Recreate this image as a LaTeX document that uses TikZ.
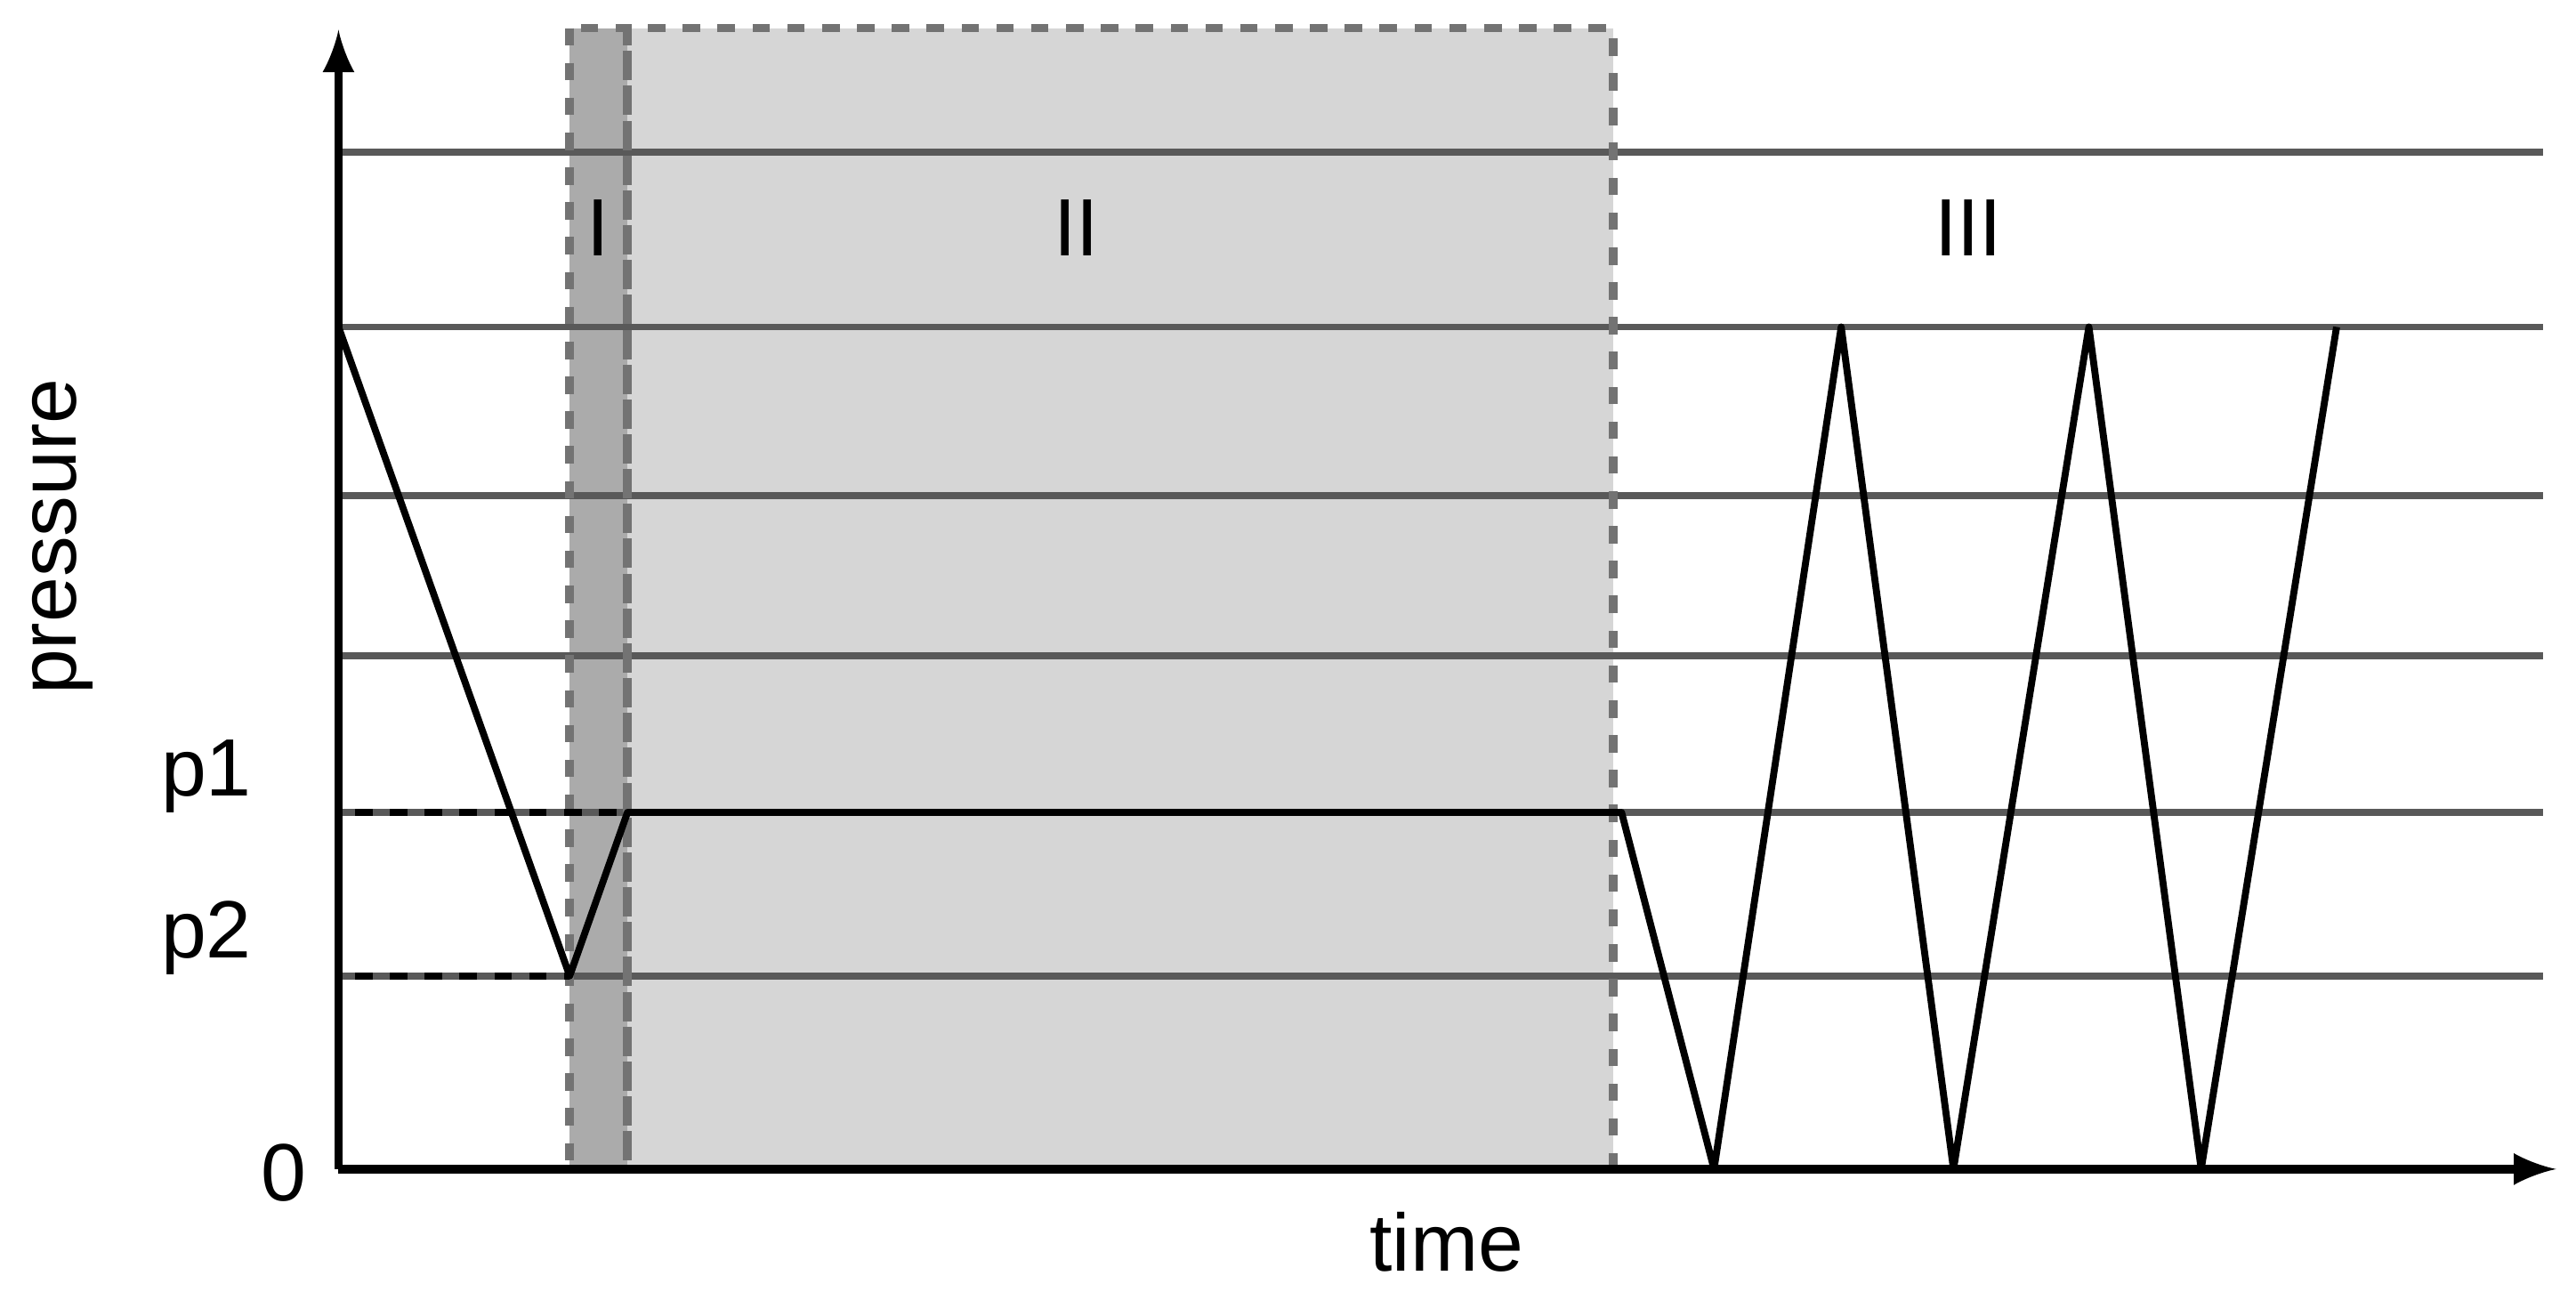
\documentclass[tikz,border=0pt]{standalone}
\usepackage{fontspec}
\setmainfont{Liberation Sans}
\begin{document}
\begin{tikzpicture}[x=0.01cm,y=-0.01cm,
  grid/.style={draw=black!65,line width=1.2pt},
  zone/.style={draw=black!55,dashed,line width=1.5pt},
  lbl/.style={font=\fontsize{14}{16}\selectfont},
  curve/.style={line width=1.2pt,line join=round}]
\useasboundingbox (0,0) rectangle (1560,782);
\fill[black!16] (380,17) rectangle (977,708);
\fill[black!33] (345,17) rectangle (380,708);
\foreach \y in {92,198,300,397,492,591} \draw[grid] (205,\y) -- (1540,\y);
\draw[zone] (380,17) rectangle (977,708);
\draw[zone] (345,17) rectangle (380,708);
\coordinate (o) at (205,708);
\coordinate (ytop) at (205,18);
\coordinate (xend) at (1548,708);
\draw[line width=1.5pt,-latex] (o) -- (ytop);
\draw[line width=1.5pt,-latex] (o) -- (xend);
\coordinate (a) at (215,492); \coordinate (b) at (380,492);
\coordinate (c) at (215,591); \coordinate (d) at (345,591);
\draw[dashed,line width=1.2pt] (a) -- (b);
\draw[dashed,line width=1.2pt] (c) -- (d);
\draw[curve] (205,198) -- (345,591) -- (380,492) -- (982,492) -- (1038,708) -- (1115,198) -- (1183,708) -- (1265,198) -- (1333,708) -- (1415,198);
\node[lbl] (n1) at (362,138) {I};
\node[lbl] (n2) at (652,138) {II};
\node[lbl] (n3) at (1192,138) {III};
\node[lbl] (p1) at (125,470) {p1};
\node[lbl] (p2) at (125,568) {p2};
\node[lbl] (z) at (172,710) {0};
\node[lbl] (t) at (876,752) {time};
\node[lbl,rotate=90] (pr) at (38,325) {pressure};
\end{tikzpicture}
\end{document}
